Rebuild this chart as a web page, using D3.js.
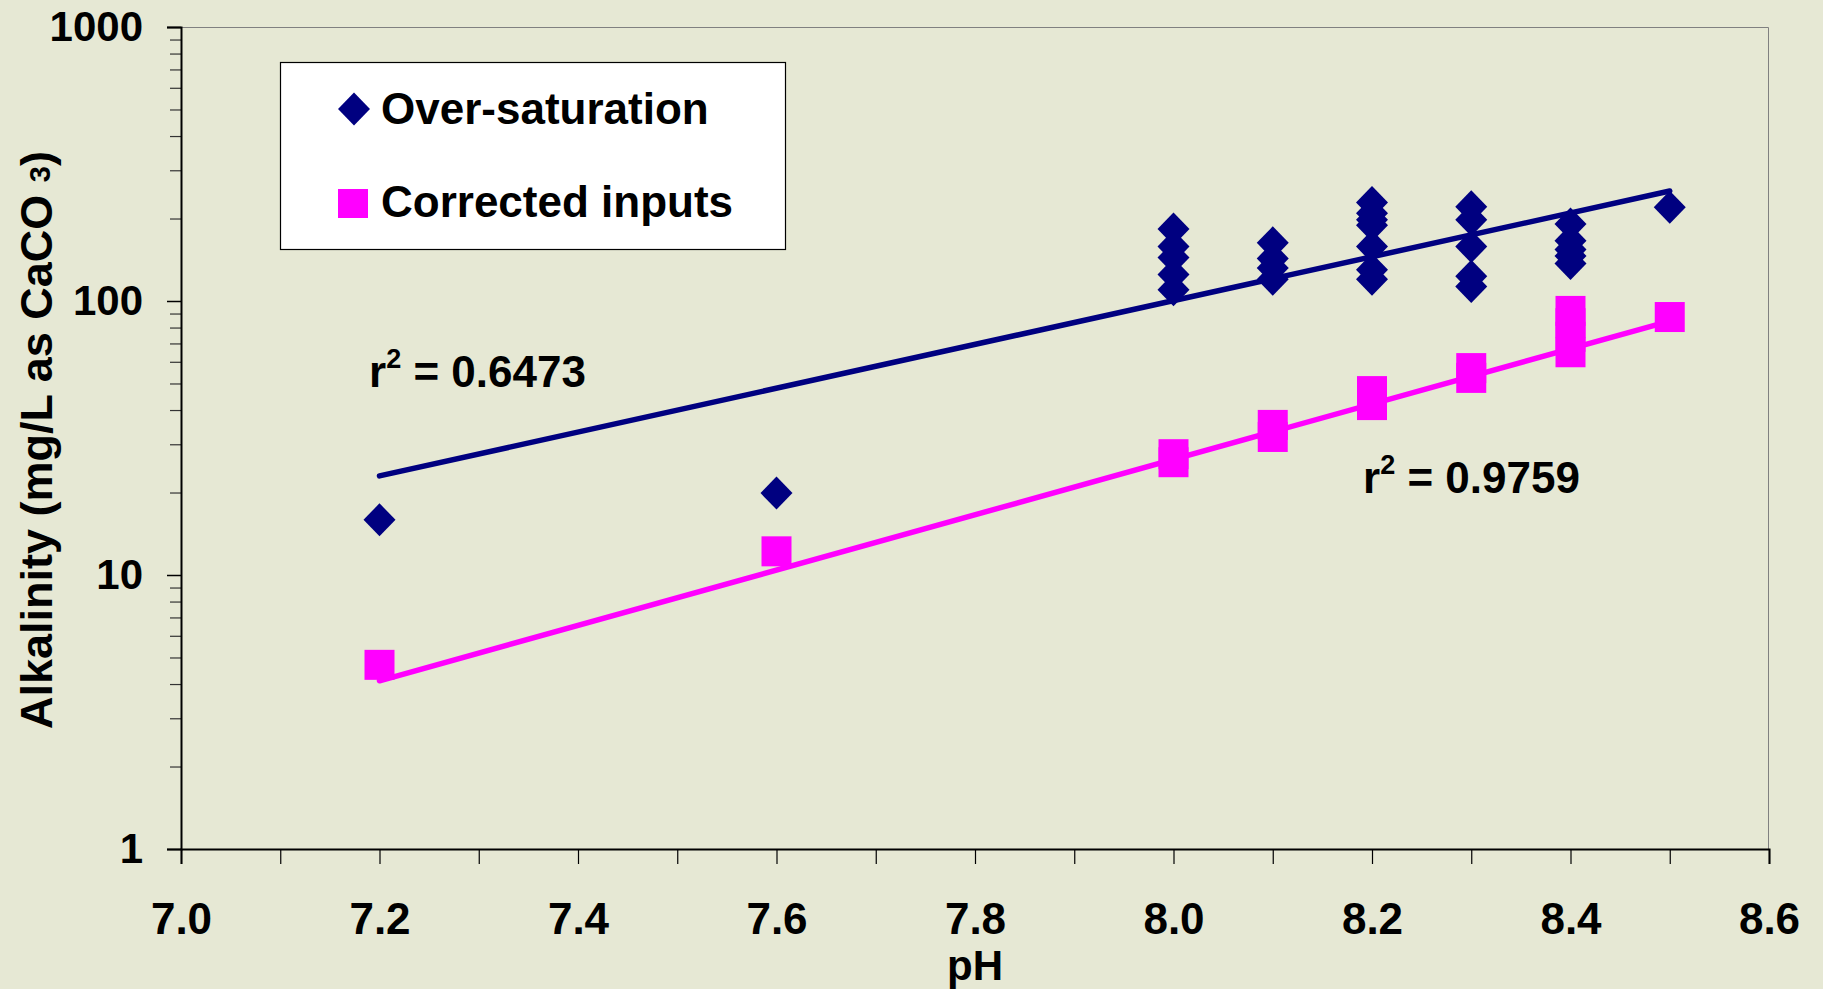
<!DOCTYPE html>
<html>
<head>
<meta charset="utf-8">
<script src="https://cdn.jsdelivr.net/npm/d3@7"></script>
<style>
  body { margin: 0; background: #e6e8d4; }
  text { font-family: "Liberation Sans", Arial, sans-serif; font-weight: bold; fill: #000; }
</style>
</head>
<body>
<div id="chart"></div>
<script>
// data
var overPH  = [7.2, 7.6, 8.0, 8.0, 8.0, 8.0, 8.0, 8.1, 8.1, 8.1, 8.1,
               8.2, 8.2, 8.2, 8.2, 8.2, 8.2, 8.2, 8.3, 8.3, 8.3, 8.3, 8.3,
               8.4, 8.4, 8.4, 8.4, 8.4, 8.5];
var overAlk = [15.9, 19.9, 183, 158, 144, 125, 110, 163, 143, 132, 120,
               229, 209, 198, 189, 158, 130, 120, 221, 198, 158, 123, 113,
               191, 166, 154, 146, 137, 220];

var corrPH  = [7.2, 7.6, 8.0, 8.0, 8.1, 8.1, 8.2, 8.2, 8.3, 8.3, 8.4, 8.4, 8.4, 8.4, 8.5];
var corrAlk = [4.7, 12.2, 27.6, 25.8, 35.3, 31.9, 46.9, 41.7, 56.9, 52.4, 92, 83, 74, 65, 87.4];

// fitted trend lines (end points)
var trendPH = [7.2, 8.5];
var overTrend = [23.0, 252];
var corrTrend = [4.11, 84.5];

var r2Values = ["0.6473", "0.9759"];
var legendNames = ["Over-saturation", "Corrected inputs"];

var xTicks = [7.0, 7.2, 7.4, 7.6, 7.8, 8.0, 8.2, 8.4, 8.6];
var xMinor = [7.1, 7.3, 7.5, 7.7, 7.9, 8.1, 8.3, 8.5];
var yTicks = [1, 10, 100, 1000];

var svgWidth = 1823;
var svgHeight = 989;
var margin = { top: 27, right: 54, bottom: 140, left: 181 };
var width = svgWidth - margin.left - margin.right;
var height = svgHeight - margin.top - margin.bottom;

var svg = d3.select("#chart")
  .append("svg")
  .attr("width", svgWidth)
  .attr("height", svgHeight);

svg.append("rect")
  .attr("width", svgWidth)
  .attr("height", svgHeight)
  .attr("fill", "#e6e8d4");

var chartGroup = svg.append("g")
  .attr("transform", `translate(${margin.left}, ${margin.top})`);

var xScale = d3.scaleLinear().domain([7.0, 8.6]).range([0, width]);
var yScale = d3.scaleLog().domain([1, 1000]).range([height, 0]);

// plot border (top / right in grey)
chartGroup.append("path")
  .attr("d", `M0,0.5H${width - 0.5}V${height}`)
  .attr("fill", "none")
  .attr("stroke", "#808080")
  .attr("stroke-width", 1);

// y minor ticks
var yMinor = [];
[1, 10, 100].forEach(function(d) {
  for (var k = 2; k <= 9; k++) yMinor.push(d * k);
});

chartGroup.append("g")
  .call(d3.axisLeft(yScale).tickValues(yMinor).tickSize(11).tickFormat(""))
  .call(g => g.select(".domain").remove())
  .selectAll("line").attr("stroke", "#333").attr("stroke-width", 1.2);

var yAxis = chartGroup.append("g")
  .call(d3.axisLeft(yScale).tickValues(yTicks).tickSize(14).tickPadding(24)
    .tickFormat(d3.format("d")));
yAxis.select(".domain").attr("stroke", "#000").attr("stroke-width", 2);
yAxis.selectAll("line").attr("stroke", "#000").attr("stroke-width", 1.5);
yAxis.selectAll("text").attr("font-size", 42).attr("font-family", null);

chartGroup.append("g")
  .attr("transform", `translate(0, ${height})`)
  .call(d3.axisBottom(xScale).tickValues(xMinor).tickSize(15).tickFormat(""))
  .call(g => g.select(".domain").remove())
  .selectAll("line").attr("stroke", "#000").attr("stroke-width", 1.2);

var xAxis = chartGroup.append("g")
  .attr("transform", `translate(0, ${height})`)
  .call(d3.axisBottom(xScale).tickValues(xTicks).tickSize(15).tickPadding(39)
    .tickFormat(d3.format(".1f")));
xAxis.select(".domain").attr("stroke", "#000").attr("stroke-width", 2);
xAxis.selectAll("line").attr("stroke", "#000").attr("stroke-width", 1.2);
xAxis.selectAll("text").attr("font-size", 44).attr("font-family", null);

// trend lines
var line = d3.line()
  .x(d => xScale(d[0]))
  .y(d => yScale(d[1]));

chartGroup.append("path")
  .attr("d", line(d3.zip(trendPH, overTrend)))
  .attr("fill", "none")
  .attr("stroke", "#000080")
  .attr("stroke-width", 5.5)
  .attr("stroke-linecap", "round");

chartGroup.append("path")
  .attr("d", line(d3.zip(trendPH, corrTrend)))
  .attr("fill", "none")
  .attr("stroke", "#ff00ff")
  .attr("stroke-width", 5.5)
  .attr("stroke-linecap", "round");

// markers
var diamond = "M0,-16.5L16,0L0,16.5L-16,0Z";

chartGroup.selectAll(".over")
  .data(d3.zip(overPH, overAlk))
  .enter()
  .append("path")
  .attr("class", "over")
  .attr("d", diamond)
  .attr("transform", d => `translate(${xScale(d[0])}, ${yScale(d[1])})`)
  .attr("fill", "#000080");

chartGroup.selectAll(".corr")
  .data(d3.zip(corrPH, corrAlk))
  .enter()
  .append("rect")
  .attr("class", "corr")
  .attr("x", d => xScale(d[0]) - 15)
  .attr("y", d => yScale(d[1]) - 15)
  .attr("width", 30)
  .attr("height", 30)
  .attr("fill", "#ff00ff");

// r squared labels
var r2Pos = [[369, 387], [1363, 493]];
r2Values.forEach(function(v, i) {
  var t = svg.append("text")
    .attr("x", r2Pos[i][0])
    .attr("y", r2Pos[i][1])
    .attr("font-size", 44);
  t.append("tspan").text("r");
  t.append("tspan").attr("font-size", 27).attr("dy", -19).text("2");
  t.append("tspan").attr("dy", 19).text(" = " + v);
});

// legend
var legend = svg.append("g");
legend.append("rect")
  .attr("x", 280.5)
  .attr("y", 62.5)
  .attr("width", 505)
  .attr("height", 187)
  .attr("fill", "#fff")
  .attr("stroke", "#000")
  .attr("stroke-width", 1.2);

legend.append("path")
  .attr("d", diamond)
  .attr("transform", "translate(354, 109)")
  .attr("fill", "#000080");

legend.append("rect")
  .attr("x", 338)
  .attr("y", 189)
  .attr("width", 30)
  .attr("height", 29)
  .attr("fill", "#ff00ff");

legend.selectAll(".lbl")
  .data(legendNames)
  .enter()
  .append("text")
  .attr("class", "lbl")
  .attr("x", 381)
  .attr("y", (d, i) => 124 + i * 93)
  .attr("font-size", 44)
  .text(d => d);

// axis titles
svg.append("text")
  .attr("x", margin.left + width / 2)
  .attr("y", 980)
  .attr("text-anchor", "middle")
  .attr("font-size", 42)
  .text("pH");

var yTitle = svg.append("text")
  .attr("transform", "translate(52, 440) rotate(-90)")
  .attr("text-anchor", "middle")
  .attr("font-size", 45);
yTitle.append("tspan").text("Alkalinity (mg/L as CaCO ");
yTitle.append("tspan").attr("font-size", 29).attr("dy", -2).text("3");
yTitle.append("tspan").attr("dy", 2).text(")");
</script>
</body>
</html>
